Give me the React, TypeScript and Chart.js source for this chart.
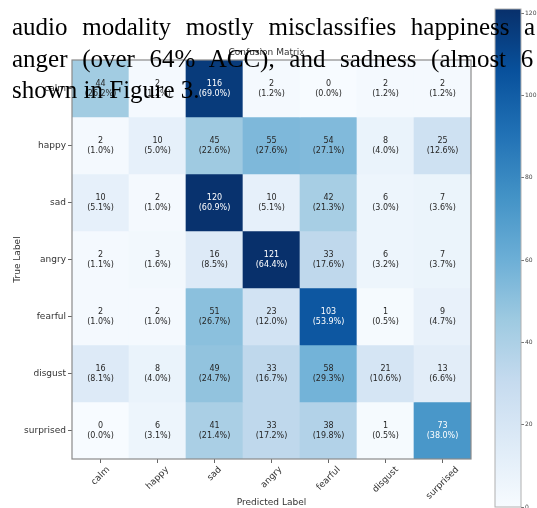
import React, { useEffect, useRef } from 'react';
import { Chart, registerables } from 'chart.js';

Chart.register(...registerables);

const predictedLabels = ['calm', 'happy', 'sad', 'angry', 'fearful', 'disgust', 'surprised'];
const trueLabels = ['calm', 'happy', 'sad', 'angry', 'fearful', 'disgust', 'surprised'];

const rowCalm = [44, 2, 116, 2, 0, 2, 2];
const rowHappy = [2, 10, 45, 55, 54, 8, 25];
const rowSad = [10, 2, 120, 10, 42, 6, 7];
const rowAngry = [2, 3, 16, 121, 33, 6, 7];
const rowFearful = [2, 2, 51, 23, 103, 1, 9];
const rowDisgust = [16, 8, 49, 33, 58, 21, 13];
const rowSurprised = [0, 6, 41, 33, 38, 1, 73];
const matrixRows = [rowCalm, rowHappy, rowSad, rowAngry, rowFearful, rowDisgust, rowSurprised];

const colorbarTicks = [0, 20, 40, 60, 80, 100, 120];
const colorMax = 121;

const chartTitle = 'Confusion Matrix';
const xTitle = 'Predicted Label';
const yTitle = 'True Label';

const paperLines = [
  'audio modality mostly misclassifies happiness a',
  'anger (over 64% ACC), and sadness (almost 6',
  'shown in Figure 3.',
];

const BLUES = ['#f7fbff', '#deebf7', '#c6dbef', '#9ecae1', '#6baed6', '#4292c6', '#2171b5', '#08519c', '#08306b'];

function hexToRgb(h: string) {
  return [parseInt(h.slice(1, 3), 16), parseInt(h.slice(3, 5), 16), parseInt(h.slice(5, 7), 16)];
}

function blues(t: number) {
  const tt = Math.max(0, Math.min(1, t));
  const p = tt * (BLUES.length - 1);
  const i = Math.min(Math.floor(p), BLUES.length - 2);
  const f = p - i;
  const a = hexToRgb(BLUES[i]);
  const b = hexToRgb(BLUES[i + 1]);
  const c = a.map((v, k) => Math.round(v + (b[k] - v) * f));
  return `rgb(${c[0]},${c[1]},${c[2]})`;
}

const FONT = "'DejaVu Sans', sans-serif";

const matrixPlugin = {
  id: 'matrixDecor',
  afterDatasetsDraw(chart: any) {
    const { ctx, chartArea, scales } = chart;
    const xs = scales.x;
    const ys = scales.y;
    ctx.save();
    ctx.textAlign = 'center';
    ctx.textBaseline = 'middle';
    ctx.font = `8px ${FONT}`;
    matrixRows.forEach((row, r) => {
      const total = row.reduce((a, b) => a + b, 0);
      row.forEach((v, c) => {
        const x = xs.getPixelForValue(c);
        const y = ys.getPixelForValue(r);
        ctx.fillStyle = v > colorMax / 2 ? '#ffffff' : '#262626';
        ctx.fillText(String(v), x, y - 5);
        ctx.fillText(`(${((v / total) * 100).toFixed(1)}%)`, x, y + 5);
      });
    });
    ctx.strokeStyle = '#8a8a8a';
    ctx.lineWidth = 1.2;
    ctx.strokeRect(chartArea.left, chartArea.top, chartArea.right - chartArea.left, chartArea.bottom - chartArea.top);
    ctx.fillStyle = '#333';
    ctx.font = `9px ${FONT}`;
    predictedLabels.forEach((lab, i) => {
      const x = xs.getPixelForValue(i);
      const w = ctx.measureText(lab).width;
      const bb = (w + 9) * Math.SQRT1_2;
      const cy = chartArea.bottom + 6 + bb / 2;
      ctx.save();
      ctx.translate(x, cy);
      ctx.rotate(-Math.PI / 4);
      ctx.textAlign = 'center';
      ctx.textBaseline = 'middle';
      ctx.fillText(lab, 0, 0);
      ctx.restore();
    });
    const cx = (chartArea.left + chartArea.right) / 2;
    const cyy = (chartArea.top + chartArea.bottom) / 2;
    ctx.textAlign = 'center';
    ctx.textBaseline = 'middle';
    ctx.font = `9px ${FONT}`;
    ctx.fillText(chartTitle, cx - 5, chartArea.top - 7);
    ctx.fillText(xTitle, cx, 503);
    ctx.save();
    ctx.translate(18, cyy);
    ctx.rotate(-Math.PI / 2);
    ctx.fillText(yTitle, 0, 0);
    ctx.restore();
    ctx.restore();
  },
};

const colorbarPlugin = {
  id: 'colorbarFrame',
  afterDatasetsDraw(chart: any) {
    const { ctx, chartArea } = chart;
    ctx.save();
    ctx.strokeStyle = '#b0b0b0';
    ctx.lineWidth = 1;
    ctx.strokeRect(chartArea.left, chartArea.top, chartArea.right - chartArea.left, chartArea.bottom - chartArea.top);
    ctx.restore();
  },
};

export default function App() {
  const mainRef = useRef<HTMLCanvasElement>(null);
  const barRef = useRef<HTMLCanvasElement>(null);

  useEffect(() => {
    const main = new Chart(mainRef.current as HTMLCanvasElement, {
      type: 'bar',
      data: {
        labels: predictedLabels,
        datasets: matrixRows.map((row, r) => ({
          label: trueLabels[r],
          data: row.map(() => [r - 0.5, r + 0.5]),
          backgroundColor: row.map((v) => blues(v / colorMax)),
          borderWidth: 0,
          barPercentage: 1,
          categoryPercentage: 1,
          grouped: false,
        })),
      } as any,
      options: {
        animation: false,
        responsive: false,
        devicePixelRatio: 1,
        layout: { padding: { top: 60, right: 19, bottom: 0, left: 0 } },
        plugins: { legend: { display: false }, tooltip: { enabled: false }, title: { display: false } },
        scales: {
          x: {
            type: 'category',
            offset: true,
            grid: { display: true, drawOnChartArea: false, drawTicks: true, tickLength: 4, tickColor: '#666', offset: false },
            border: { display: false },
            ticks: { display: false },
            afterFit: (s: any) => { s.height = 49; },
          },
          y: {
            type: 'linear',
            min: -0.5,
            max: 6.5,
            reverse: true,
            afterBuildTicks: (s: any) => { s.ticks = trueLabels.map((_, i) => ({ value: i })); },
            ticks: {
              callback: (v: any) => trueLabels[v as number],
              font: { family: 'DejaVu Sans', size: 9 },
              color: '#333',
              padding: 2,
              autoSkip: false,
            },
            grid: { drawOnChartArea: false, drawTicks: true, tickLength: 4, tickColor: '#666' },
            border: { display: false },
            afterFit: (s: any) => { s.width = 72; s.paddingTop = 0; s.paddingBottom = 0; },
          },
        },
      } as any,
      plugins: [matrixPlugin],
    });

    const bar = new Chart(barRef.current as HTMLCanvasElement, {
      type: 'bar',
      data: {
        labels: [''],
        datasets: [{
          data: [[0, colorMax]],
          backgroundColor: (c: any) => {
            const ch = c.chart;
            if (!ch.chartArea || !ch.scales.y) return BLUES[4];
            const y0 = ch.scales.y.getPixelForValue(0);
            const y1 = ch.scales.y.getPixelForValue(colorMax);
            const g = ch.ctx.createLinearGradient(0, y0, 0, y1);
            BLUES.forEach((col, i) => g.addColorStop(i / (BLUES.length - 1), col));
            return g;
          },
          borderWidth: 0,
          barPercentage: 1,
          categoryPercentage: 1,
        }],
      } as any,
      options: {
        animation: false,
        responsive: false,
        devicePixelRatio: 1,
        layout: { padding: { top: 9, right: 0, bottom: 1, left: 15 } },
        plugins: { legend: { display: false }, tooltip: { enabled: false } },
        scales: {
          x: { display: false },
          y: {
            position: 'right',
            min: 0,
            max: colorMax,
            afterBuildTicks: (s: any) => { s.ticks = colorbarTicks.map((v) => ({ value: v })); },
            ticks: { font: { family: 'DejaVu Sans', size: 6 }, color: '#444', padding: 1 },
            grid: { drawOnChartArea: false, drawTicks: true, tickLength: 3, tickColor: '#777' },
            border: { display: false },
            afterFit: (s: any) => { s.width = 16; s.paddingTop = 0; s.paddingBottom = 0; },
          },
        },
      } as any,
      plugins: [colorbarPlugin],
    });

    return () => {
      main.destroy();
      bar.destroy();
    };
  }, []);

  const lineTops = [14, 46, 77];
  const lineSpacing = ['8.4px', '8.4px', '0px'];

  return (
    <div style={{ position: 'fixed', left: 0, top: 0, width: 537, height: 508, overflow: 'hidden', background: '#fff' }}>
      <canvas ref={mainRef} width={490} height={508} style={{ position: 'absolute', left: 0, top: 0, width: 490, height: 508 }} />
      <canvas ref={barRef} width={57} height={508} style={{ position: 'absolute', left: 480, top: 0, width: 57, height: 508 }} />
      {paperLines.map((t, i) => (
        <div
          key={i}
          style={{
            position: 'absolute',
            left: 12,
            top: lineTops[i],
            fontFamily: "'Liberation Serif', serif",
            fontSize: 25,
            lineHeight: '25px',
            whiteSpace: 'nowrap',
            wordSpacing: lineSpacing[i],
            color: '#000',
          }}
        >
          {t}
        </div>
      ))}
    </div>
  );
}
